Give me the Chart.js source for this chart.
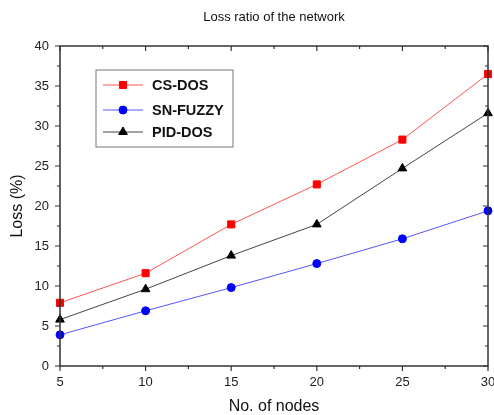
<!DOCTYPE html>
<html>
<head>
<meta charset="utf-8">
<script src="https://cdn.jsdelivr.net/npm/chart.js@4.4.0/dist/chart.umd.min.js"></script>
<style>
  html, body { margin: 0; padding: 0; background: #fff; overflow: hidden; }
  #wrap { width: 494px; height: 415px; }
</style>
</head>
<body>
<div id="wrap"><canvas id="myChart" width="494" height="415"></canvas></div>
<script>
// Data
const nodes = [5, 10, 15, 20, 25, 30];
const csDos = [7.9, 11.6, 17.7, 22.7, 28.3, 36.5];
const snFuzzy = [3.9, 6.9, 9.8, 12.8, 15.9, 19.4];
const pidDos = [5.8, 9.6, 13.8, 17.7, 24.7, 31.6];

const seriesNames = ['CS-DOS', 'SN-FUZZY', 'PID-DOS'];
const seriesColors = ['#ff0000', '#0000ff', '#000000'];
const lineColors = ['#ff5555', '#5555ff', '#444444'];
const pointStyles = ['rect', 'circle', 'triangle'];
const pointSizes = [5, 4, 5];

const fontFam = '"Liberation Sans", Arial, sans-serif';

function toPoints(vals) {
    return nodes.map((x, i) => ({ x: x, y: vals[i] }));
}

// Frame, minor ticks, top/right ticks and the legend box
const framePlugin = {
    id: 'frame',
    afterDraw(chart) {
        const ctx = chart.ctx;
        const a = chart.chartArea;
        const xs = chart.scales.x;
        const ys = chart.scales.y;
        ctx.save();
        ctx.strokeStyle = '#333';
        ctx.lineWidth = 1.5;
        ctx.strokeRect(a.left, a.top, a.right - a.left, a.bottom - a.top);
        ctx.lineWidth = 1.2;
        ctx.beginPath();
        for (let v = 5; v <= 30.01; v += 2.5) {
            const px = xs.getPixelForValue(v);
            const major = Math.abs(v % 5) < 0.01;
            const len = major ? 5 : 3;
            ctx.moveTo(px, a.bottom);
            ctx.lineTo(px, a.bottom + len);
            ctx.moveTo(px, a.top);
            ctx.lineTo(px, a.top + len);
        }
        for (let v = 0; v <= 40.01; v += 2.5) {
            const py = ys.getPixelForValue(v);
            const major = Math.abs(v % 5) < 0.01;
            const len = major ? 5 : 3;
            ctx.moveTo(a.left, py);
            ctx.lineTo(a.left - len, py);
            ctx.moveTo(a.right, py);
            ctx.lineTo(a.right - len, py);
        }
        ctx.stroke();

        // legend box
        const bx = 96, by = 70, bw = 137, bh = 77;
        ctx.lineWidth = 1;
        ctx.strokeStyle = '#777';
        ctx.strokeRect(bx, by, bw, bh);
        const rows = [85, 110, 132];
        chart.data.datasets.forEach((ds, i) => {
            const yy = rows[i];
            ctx.strokeStyle = ds.borderColor;
            ctx.lineWidth = 1;
            ctx.beginPath();
            ctx.moveTo(103, yy);
            ctx.lineTo(143, yy);
            ctx.stroke();
            ctx.fillStyle = ds.pointBackgroundColor;
            ctx.strokeStyle = ds.pointBackgroundColor;
            Chart.helpers.drawPoint(ctx, {
                pointStyle: ds.pointStyle,
                radius: ds.pointRadius,
                borderWidth: 1
            }, 123, yy);
            ctx.fillStyle = '#111';
            ctx.font = 'bold 14.5px ' + fontFam;
            ctx.textAlign = 'left';
            ctx.textBaseline = 'middle';
            ctx.fillText(ds.label, 152, yy + 1);
        });
        ctx.restore();
    }
};

const datasets = [csDos, snFuzzy, pidDos].map((vals, i) => ({
    label: seriesNames[i],
    data: toPoints(vals),
    borderColor: lineColors[i],
    borderWidth: 1,
    pointStyle: pointStyles[i],
    pointRadius: pointSizes[i],
    pointBackgroundColor: seriesColors[i],
    pointBorderColor: seriesColors[i],
    pointBorderWidth: 1,
    tension: 0,
    clip: false
}));

const ctx = document.getElementById('myChart').getContext('2d');
const myChart = new Chart(ctx, {
    type: 'line',
    data: { datasets: datasets },
    options: {
        responsive: false,
        animation: false,
        layout: { padding: { left: 0, right: 5, top: 0, bottom: 0 } },
        plugins: {
            legend: { display: false },
            tooltip: { enabled: false },
            title: {
                display: true,
                fullSize: false,
                text: 'Loss ratio of the network',
                color: '#111',
                font: { family: fontFam, size: 13, weight: 'normal' },
                padding: { top: 10, bottom: 20.4 }
            }
        },
        scales: {
            x: {
                type: 'linear',
                min: 5,
                max: 30,
                afterFit(scale) {
                    scale.height = 49;
                    scale.paddingLeft = 0;
                    scale.paddingRight = 0;
                },
                ticks: {
                    stepSize: 5,
                    color: '#222',
                    padding: 9,
                    font: { family: fontFam, size: 13 },
                    maxRotation: 0
                },
                grid: { display: false, drawTicks: false },
                border: { display: false },
                title: {
                    display: true,
                    text: 'No. of nodes',
                    color: '#111',
                    font: { family: fontFam, size: 16, lineHeight: 1 },
                    padding: { top: 0, bottom: 0 }
                }
            },
            y: {
                min: 0,
                max: 40,
                afterFit(scale) {
                    scale.width = 60;
                },
                ticks: {
                    stepSize: 5,
                    color: '#222',
                    padding: 11,
                    font: { family: fontFam, size: 13 }
                },
                grid: { display: false, drawTicks: false },
                border: { display: false },
                title: {
                    display: true,
                    text: 'Loss (%)',
                    color: '#111',
                    font: { family: fontFam, size: 16, lineHeight: 1 },
                    padding: { top: 10, bottom: 0 }
                }
            }
        }
    },
    plugins: [framePlugin]
});
</script>
</body>
</html>
